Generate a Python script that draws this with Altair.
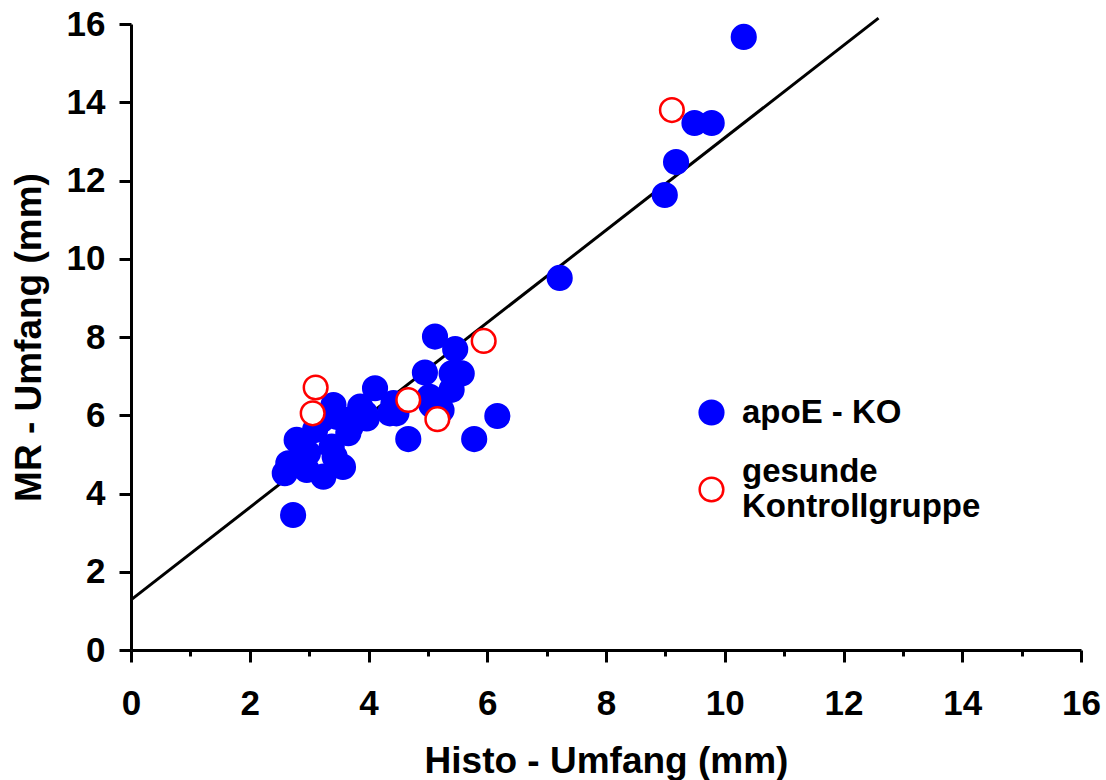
import altair as alt
import pandas as pd

# --- data ---
blue_x = [5.12, 5.46, 4.95, 5.40, 5.57, 5.40, 4.11, 5.03, 4.42, 4.47, 5.06, 5.23,
          4.67, 5.78, 6.17, 3.97, 3.41, 3.94, 4.36, 3.60, 3.66, 2.79, 3.10, 3.38,
          2.98, 2.65, 2.59, 2.96, 3.24, 3.57, 3.43, 2.73, 3.70, 3.21, 3.46, 3.86,
          10.32, 9.49, 9.78, 9.18, 8.99, 7.22]
blue_y = [8.01, 7.69, 7.09, 7.07, 7.07, 6.65, 6.69, 6.47, 6.31, 6.05, 6.26, 6.13,
          5.39, 5.39, 5.98, 5.92, 6.26, 6.05, 6.05, 5.88, 5.54, 5.37, 5.62, 5.20,
          5.03, 4.77, 4.52, 4.60, 4.43, 4.68, 4.94, 3.45, 5.71, 5.88, 5.96, 6.22,
          15.67, 13.47, 13.47, 12.47, 11.63, 9.51]
red_x = [3.11, 3.06, 4.67, 5.16, 5.94, 9.11]
red_y = [6.71, 6.05, 6.39, 5.90, 7.90, 13.80]

line_x = [0.0, 12.59]
line_y = [1.28, 16.15]

groups = ["apoE - KO", "gesunde Kontrollgruppe"]
x_ticks = list(range(0, 17))
y_ticks = list(range(0, 17))

grp = [groups[0]] * len(blue_x) + [groups[1]] * len(red_x)
pts = pd.DataFrame({
    "x": blue_x + red_x,
    "y": blue_y + red_y,
    "g": grp,
    "g2": grp,
})
ln = pd.DataFrame({"x": line_x, "y": line_y})

FONT = "Liberation Sans"
BLUE = "#0000ff"
RED = "#ff0000"

minor_size = {"condition": {"test": "datum.value % 2 === 1", "value": 6}, "value": 12}

x_axis = alt.Axis(
    values=x_ticks,
    format="d",
    labelExpr="datum.value % 2 === 0 ? datum.label : ''",
    tickSize=minor_size,
    title="Histo - Umfang (mm)",
    grid=False,
    labelPadding=24,
    titlePadding=22,
    labelFlush=False,
    labelOverlap=False,
)
y_axis = alt.Axis(
    values=y_ticks,
    format="d",
    labelExpr="datum.value % 2 === 0 ? datum.label : ''",
    tickSize=minor_size,
    title="MR - Umfang (mm)",
    grid=False,
    labelPadding=14,
    titlePadding=18,
    labelFlush=False,
    labelOverlap=False,
)

xs = alt.Scale(domain=[0, 16], nice=False, zero=False)
ys = alt.Scale(domain=[0, 16], nice=False, zero=False)

line = alt.Chart(ln).mark_line(color="black", strokeWidth=3, clip=False).encode(
    x=alt.X("x:Q", scale=xs, axis=x_axis),
    y=alt.Y("y:Q", scale=ys, axis=y_axis),
)

common = dict(
    title=None,
    orient="none",
    padding=0,
    labelFont=FONT,
    labelFontSize=33,
    labelFontWeight="bold",
    labelColor="black",
    labelOffset=14,
    labelLimit=400,
    symbolSize=560,
    symbolStrokeWidth=2.5,
    symbolType="circle",
)

legend_ko = alt.Legend(
    values=[groups[0]],
    legendX=564,
    legendY=372,
    symbolStrokeColor=BLUE,
    labelBaseline="middle",
    **common,
)
legend_ctrl = alt.Legend(
    values=[groups[1]],
    legendX=564,
    legendY=449,
    symbolFillColor="#ffffff",
    labelBaseline="line-bottom",
    labelExpr="['gesunde', 'Kontrollgruppe']",
    **common,
)

points = alt.Chart(pts).mark_point(
    shape="circle", size=560, strokeWidth=2.5, opacity=1, filled=False
).encode(
    x=alt.X("x:Q", scale=xs),
    y=alt.Y("y:Q", scale=ys),
    fill=alt.Fill("g:N", scale=alt.Scale(domain=groups, range=[BLUE, "#ffffff"]), legend=legend_ko),
    stroke=alt.Stroke("g2:N", scale=alt.Scale(domain=[groups[1], groups[0]], range=[RED, BLUE]),
                      legend=legend_ctrl),
)

chart = alt.layer(line, points).properties(
    width=950,
    height=626,
    autosize=alt.AutoSizeParams(type="none"),
    padding={"left": 131, "top": 24, "right": 25, "bottom": 130},
).resolve_legend(fill="independent", stroke="independent").configure_view(stroke=None).configure_axis(
    domainColor="black",
    domainWidth=3,
    tickColor="black",
    tickWidth=3,
    labelFont=FONT,
    labelFontSize=35,
    labelFontWeight="bold",
    labelColor="black",
    titleFont=FONT,
    titleFontSize=37,
    titleFontWeight="bold",
    titleColor="black",
)

chart.save("out.html", embed_options={"renderer": "svg", "actions": False})
